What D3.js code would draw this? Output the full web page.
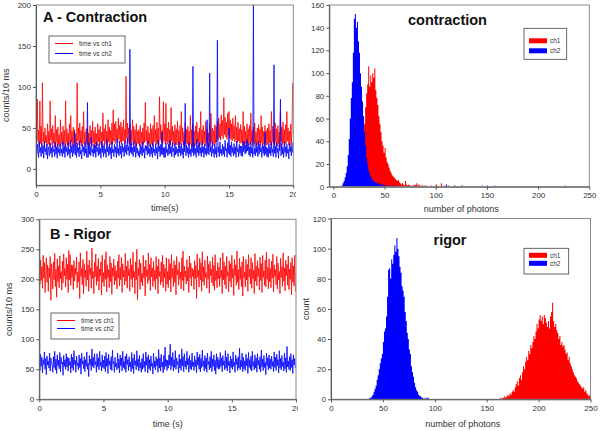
<!DOCTYPE html>
<html><head><meta charset="utf-8">
<script src="https://cdn.jsdelivr.net/npm/d3@7/dist/d3.min.js"></script>
<style>body{margin:0;background:#fff}svg{display:block}text{font-family:"Liberation Sans",Arial,sans-serif}</style>
</head><body><svg id="c" width="600" height="431"></svg>
<script>
// ---------- DATA ----------
const timeStep = 0.05; // seconds between samples (estimated from the traces)
const contractionCh1 = [
62,30,85,34,47,27,83,31,52,29,105,33,45,26,50,32,41,28,55,30,46,27,83,35,49,29,53,31,44,26,65,33,48,28,51,30,42,27,60,31,
45,28,52,31,47,26,83,32,49,29,44,27,55,30,65,33,46,28,51,31,48,27,43,30,105,34,50,29,56,32,47,28,52,30,70,33,45,27,49,31,
50,29,44,27,53,31,47,28,58,32,46,26,51,30,43,28,55,33,48,29,52,31,45,27,68,34,49,30,54,32,46,28,60,33,51,29,47,31,56,30,
72,34,55,31,58,35,49,32,62,36,53,33,57,30,51,34,60,33,48,31,113,38,56,33,50,30,54,32,47,29,60,34,52,31,48,28,55,32,46,30,
48,28,53,31,45,27,50,30,56,32,81,34,47,29,52,31,44,27,55,30,49,28,53,32,65,33,48,30,57,31,50,29,88,35,54,32,47,30,82,34,
55,31,80,33,50,30,57,32,48,29,75,34,52,31,46,28,54,30,49,29,58,32,47,28,53,30,70,33,50,29,45,27,56,31,48,30,52,28,46,29,
65,30,48,27,54,31,46,28,52,30,57,32,45,27,50,29,70,33,48,30,53,31,46,28,58,32,49,29,44,27,55,31,68,33,50,30,47,28,54,31,
52,33,58,36,62,38,55,35,66,40,59,37,87,42,63,39,57,36,68,41,70,38,60,36,55,34,62,37,53,33,65,35,51,32,57,34,49,31,54,32,
48,29,70,32,52,30,46,28,55,31,49,29,53,30,68,33,47,28,51,30,56,32,45,27,50,29,54,31,48,28,65,32,51,30,46,28,53,31,47,29,
50,30,55,32,47,28,70,33,52,31,46,29,56,32,49,28,53,30,45,27,70,33,51,30,57,32,48,29,54,31,70,34,50,29,46,28,55,32,48,105];
const contractionCh2 = [
72,18,30,22,14,34,20,26,15,31,19,28,13,33,21,25,17,30,12,27,22,16,32,19,26,14,29,21,24,15,33,18,27,13,30,20,25,16,31,19,
24,15,33,19,27,14,31,21,26,16,32,18,24,13,35,20,28,15,30,19,45,17,29,14,32,20,26,15,34,18,23,12,30,21,27,16,33,19,25,14,
81,14,32,18,27,16,38,20,24,15,30,19,29,14,33,21,26,16,31,18,25,13,34,20,28,15,31,19,24,14,36,21,27,16,30,18,26,12,33,20,
24,15,30,20,27,14,36,19,25,16,34,18,28,13,31,21,26,15,33,20,29,17,38,22,27,16,146,20,31,18,26,15,34,21,28,14,32,19,25,16,
22,14,30,18,27,16,33,20,25,13,29,22,28,17,34,19,25,15,30,18,27,14,32,20,24,16,31,19,26,12,35,21,28,15,30,18,45,17,26,14,
26,14,32,20,24,16,30,18,35,19,27,15,33,21,25,14,31,17,27,19,24,15,33,20,28,16,31,18,25,13,34,21,80,16,29,19,26,14,32,18,
24,15,30,20,125,16,31,18,25,14,36,20,28,16,32,19,26,15,33,20,27,14,30,18,25,16,60,19,31,17,117,21,27,15,33,19,24,14,30,18,
26,14,157,20,27,15,33,19,24,16,30,18,27,15,35,22,25,14,32,19,50,17,29,15,33,20,26,16,31,18,27,14,34,21,25,15,30,19,28,16,
28,15,33,21,34,18,29,20,36,22,31,17,27,15,33,19,26,14,200,18,25,16,32,20,27,15,34,18,30,21,26,14,31,19,28,16,45,18,27,15,
25,14,31,19,27,16,33,20,24,15,127,19,28,14,32,20,25,13,29,22,85,16,31,18,26,14,33,20,27,15,30,19,24,12,31,21,27,16,32,20];
const rigorCh1 = [
215,192,232,198,221,185,240,202,228,178,211,236,195,224,180,219,203,238,165,226,207,184,229,199,243,188,217,170,234,196,222,186,239,201,213,182,230,194,242,206,
218,187,236,200,225,178,248,199,241,190,224,203,223,183,231,197,219,208,237,186,212,196,229,168,244,205,218,191,233,176,226,203,215,188,247,199,224,180,232,208,
219,185,252,201,213,176,228,204,242,190,222,197,235,182,217,206,229,174,240,195,211,188,233,200,246,179,224,203,216,186,238,196,227,175,219,205,234,191,223,198,
214,184,230,202,241,189,220,199,236,178,226,204,215,191,243,197,222,185,231,206,217,180,235,200,224,187,245,203,213,176,229,199,250,166,218,206,233,183,227,195,
210,189,240,202,221,172,232,205,216,193,244,198,225,181,236,204,219,188,230,197,215,183,238,201,222,176,234,205,213,191,229,196,240,186,225,203,218,180,236,192,
213,186,234,199,226,179,241,203,218,188,231,195,224,174,238,207,216,190,229,200,212,184,236,198,247,181,222,204,214,192,233,197,220,178,239,202,227,189,219,205,
216,183,231,201,223,168,242,204,215,187,235,199,228,180,246,196,221,190,232,203,211,185,239,200,225,177,230,206,217,194,237,189,223,182,241,198,214,186,228,201,
220,188,236,203,215,176,244,199,229,191,222,184,238,205,213,179,231,197,226,187,240,202,218,173,233,206,224,190,247,195,216,183,235,200,221,188,229,172,238,203,
212,187,233,199,225,180,241,204,217,192,236,185,228,201,215,176,243,197,222,189,231,205,218,182,237,198,226,178,240,203,214,190,232,187,245,200,220,184,234,196,
218,186,230,202,242,179,224,205,216,191,238,184,227,199,213,176,235,203,221,188,244,197,219,181,232,206,225,190,239,183,217,200,228,174,236,195,222,189,240,180];
const rigorCh2 = [
63,48,75,55,70,44,66,58,79,50,68,41,72,57,64,52,77,47,69,60,58,45,71,53,80,49,67,43,74,56,65,51,78,46,70,59,62,40,73,55,
66,50,76,54,70,47,69,57,63,44,75,52,70,48,81,58,65,45,72,56,61,49,74,53,68,42,77,59,64,51,71,46,66,55,79,50,60,38,73,57,
67,48,84,55,70,52,76,58,63,45,76,54,69,49,80,56,62,47,74,53,65,51,72,46,78,55,68,43,75,57,64,50,71,48,82,59,63,45,70,54,
60,49,77,52,67,44,74,56,69,47,80,53,63,50,72,45,76,58,66,48,71,54,62,46,78,51,69,43,75,57,64,49,81,55,67,47,73,52,61,45,
68,50,76,53,63,46,79,57,70,44,74,51,66,48,72,55,60,42,77,53,64,49,71,56,67,45,83,52,69,47,75,54,62,44,73,50,87,55,66,48,
65,52,74,57,92,49,70,55,78,47,66,53,81,50,69,58,63,44,75,52,67,48,84,56,71,46,76,54,64,50,80,57,68,45,73,51,65,49,77,55,
62,48,72,54,66,44,79,57,70,50,75,46,68,53,82,55,64,47,73,51,69,45,77,58,63,49,71,52,80,46,67,55,74,48,65,42,76,53,70,50,
66,51,78,55,69,46,73,57,64,49,81,52,70,47,76,56,63,44,72,53,67,50,79,55,62,45,74,58,68,48,71,52,85,49,65,54,77,46,70,51,
64,48,75,56,68,43,78,53,66,50,72,47,80,55,63,49,74,52,69,45,76,57,65,50,71,46,82,54,67,48,73,53,62,41,77,56,69,49,74,52,
67,50,72,55,63,46,79,53,70,48,75,56,66,44,81,52,68,49,73,55,62,47,77,51,69,45,88,54,64,50,71,48,76,53,66,43,74,57,68,52];

// histograms: first bin value + counts per 1-photon bin
const histContrCh1Start = 20;
const histContrCh1 = [1,2,3,5,7,10,15,22,30,42,55,70,82,90,106,88,98,92,100,96,104,85,78,72,62,55,48,40,36,30,34,26,22,20,17,14,12,10,9,8,7,6,5,6,4,3,2,3,2,1,5,2,1,2,1,1,0,1,1,2,1,3,1,2,1,0,1,1,0,1,1];
const histContrCh1Sparse = [[95,1],[100,2],[105,3],[108,1],[112,1],[118,1],[125,1]];
const histContrCh2Start = 8;
const histContrCh2 = [1,3,5,8,12,18,28,42,60,78,92,118,148,152,140,145,128,118,100,88,75,62,48,36,25,20,14,11,9,7,6,5,4,4,3,3,2,3,2,2,1,2,1,0,1,0,0,1,0,0,1,0,1];
const histContrCh2Sparse = [[80,1],[100,1],[110,2],[118,1],[125,1],[145,1],[150,1],[157,1],[226,1]];
const histRigorCh1Start = 163;
const histRigorCh1 = [1,0,1,1,2,1,2,3,2,4,3,5,6,5,8,10,12,9,14,16,13,18,22,20,25,28,26,32,30,36,34,38,42,40,45,50,47,53,56,52,55,50,56,54,51,48,52,47,55,58,64,52,48,50,46,44,40,42,36,38,35,36,33,30,31,26,28,24,22,20,18,16,15,14,12,11,10,9,8,7,8,5,6,4,3,2,3,1];
const histRigorCh2Start = 37;
const histRigorCh2 = [1,1,2,3,5,7,9,13,16,20,24,27,30,38,45,47,55,68,86,87,80,93,90,96,102,98,107,100,95,88,84,75,72,68,58,52,44,40,33,30,22,18,15,11,8,6,5,3,2,2,1,1,0,1,0,1,1];

const timeTicks = [0,5,10,15,20];
const photonTicks = [0,50,100,150,200,250];
const legendLines = ["time vs ch1","time vs ch2"];
const legendHist = ["ch1","ch2"];
const RED = "#ff0000", BLUE = "#0000ff";

// ---------- DRAW ----------
const svg = d3.select("#c");
const defs = svg.append("defs");
let clipId = 0;
function clipRect(x,y,w,h){const id="cp"+(clipId++);defs.append("clipPath").attr("id",id).append("rect").attr("x",x).attr("y",y).attr("width",w).attr("height",h);return "url(#"+id+")";}

function frame(g, x0, x1, y0, y1, xScale, yScale, xt, yt){
  g.append("rect").attr("x",x0).attr("y",y0).attr("width",x1-x0).attr("height",y1-y0)
    .attr("fill","none").attr("stroke","#8a8a8a").attr("stroke-width",1);
  const ax = g.append("g").attr("transform",`translate(0,${y1})`).call(d3.axisBottom(xScale).tickValues(xt).tickSize(3).tickSizeOuter(0));
  const ay = g.append("g").attr("transform",`translate(${x0},0)`).call(d3.axisLeft(yScale).tickValues(yt).tickSize(3).tickSizeOuter(0));
  [ax,ay].forEach(a=>{a.select(".domain").attr("stroke","#555");a.selectAll("line").attr("stroke","#555");
    a.selectAll("text").attr("font-size","8px").attr("fill","#333").attr("font-family","Liberation Sans, Arial, sans-serif");});
  ay.selectAll("text").attr("x",-5);
  ax.selectAll("text").attr("y",6);
}

function linePanel(o){
  const g = svg.append("g").attr("clip-path", clipRect(0,o.y0-10,o.clipX,o.y1-o.y0+40));
  const x = d3.scaleLinear().domain([0,20]).range([o.x0,o.x1]);
  const y = d3.scaleLinear().domain(o.yDom).range([o.y1,o.y0]);
  const pg = g.append("g").attr("clip-path", clipRect(o.x0,o.y0,o.x1-o.x0,o.y1-o.y0));
  const line = d3.line().x((d,i)=>x(i*timeStep)).y(d=>y(d));
  pg.append("path").datum(o.s1).attr("d",line).attr("fill","none").attr("stroke",RED).attr("stroke-width",0.8);
  pg.append("path").datum(o.s2).attr("d",line).attr("fill","none").attr("stroke",BLUE).attr("stroke-width",0.8);
  frame(g,o.x0,o.x1,o.y0,o.y1,x,y,timeTicks,o.yTicks);
  const L = o.leg;
  g.append("rect").attr("x",L.x).attr("y",L.y).attr("width",L.w).attr("height",L.h).attr("fill","#fff").attr("stroke","#444").attr("stroke-width",0.8);
  legendLines.forEach((t,i)=>{
    const yy = L.y + 7.5 + i*L.dy;
    g.append("line").attr("x1",L.x+6).attr("x2",L.x+24).attr("y1",yy).attr("y2",yy).attr("stroke",i?BLUE:RED).attr("stroke-width",1.2);
    g.append("text").attr("x",L.x+30).attr("y",yy+2.5).attr("font-size","6.5px").attr("fill","#333").text(t);
  });
  g.append("text").attr("x",o.title[1]).attr("y",o.title[2]).attr("font-size","14.5px").attr("font-weight","bold").attr("fill","#111").text(o.title[0]);
  g.append("text").attr("x",(o.x0+o.x1)/2).attr("y",o.xlabY).attr("text-anchor","middle").attr("font-size","9px").attr("fill","#333").text(o.xlab);
  g.append("text").attr("transform",`translate(${o.ylabX},${(o.y0+o.y1)/2}) rotate(-90)`).attr("text-anchor","middle").attr("font-size","9px").attr("fill","#333").text("counts/10 ms");
}

function histPanel(o){
  const g = svg.append("g").attr("clip-path", clipRect(300,o.y0-10,300,o.y1-o.y0+40));
  const x = d3.scaleLinear().domain(o.xDom).range([o.x0,o.x1]);
  const y = d3.scaleLinear().domain(o.yDom).range([o.y1,o.y0]);
  const pg = g.append("g").attr("clip-path", clipRect(o.x0,o.y0,o.x1-o.x0,o.y1-o.y0));
  function drawHist(start, counts, sparse, col){
    const pts = counts.map((c,i)=>[start+i,c]); pts.push([start+counts.length,0]);
    const area = d3.area().x(d=>x(d[0])).y0(y(0)).y1(d=>y(d[1])).curve(d3.curveStepAfter);
    pg.append("path").datum(pts).attr("d",area).attr("fill",col).attr("stroke","none");
    pg.selectAll(null).data(sparse).enter().append("rect")
      .attr("x",d=>x(d[0])).attr("width",d=>x(d[0]+1)-x(d[0]))
      .attr("y",d=>y(d[1])).attr("height",d=>y(0)-y(d[1])).attr("fill",col);
  }
  drawHist(o.h1[0],o.h1[1],o.h1[2],RED);
  drawHist(o.h2[0],o.h2[1],o.h2[2],BLUE);
  frame(g,o.x0,o.x1,o.y0,o.y1,x,y,photonTicks,o.yTicks);
  const L = o.leg;
  g.append("rect").attr("x",L.x).attr("y",L.y).attr("width",L.w).attr("height",L.h).attr("fill","#fff").attr("stroke","#444").attr("stroke-width",0.8);
  legendHist.forEach((t,i)=>{
    const yy = L.y + L.sy + i*L.dy;
    g.append("rect").attr("x",L.x+5).attr("y",yy).attr("width",18).attr("height",5).attr("fill",i?BLUE:RED);
    g.append("text").attr("x",L.x+26).attr("y",yy+5).attr("font-size","6.5px").attr("fill","#333").text(t);
  });
  g.append("text").attr("x",o.title[1]).attr("y",o.title[2]).attr("text-anchor","middle").attr("font-size","14.5px").attr("font-weight","bold").attr("fill","#111").text(o.title[0]);
  g.append("text").attr("x",(o.x0+o.x1)/2+2).attr("y",o.xlabY).attr("text-anchor","middle").attr("font-size","9px").attr("fill","#333").text("number of photons");
  g.append("text").attr("transform",`translate(${o.ylabX},${(o.y0+o.y1)/2}) rotate(-90)`).attr("text-anchor","middle").attr("font-size","9px").attr("fill","#333").text("count");
}

linePanel({x0:36,x1:293.3,y0:5,y1:185.3,yDom:[-20,200],yTicks:[0,50,100,150,200],s1:contractionCh1,s2:contractionCh2,
  clipX:296,leg:{x:49,y:36,w:76,h:27,dy:10},title:["A - Contraction",43,21.5],xlab:"time(s)",xlabY:211,ylabX:9});
linePanel({x0:39.3,x1:296,y0:219.3,y1:399.3,yDom:[0,300],yTicks:[0,50,100,150,200,250,300],s1:rigorCh1,s2:rigorCh2,
  clipX:298,leg:{x:51,y:313,w:68,h:26,dy:8},title:["B - Rigor",50,239],xlab:"time (s)",xlabY:427,ylabX:12});
histPanel({x0:329.3,x1:589.3,y0:5,y1:186.7,xDom:[-4,250],yDom:[0,160],yTicks:[0,20,40,60,80,100,120,140,160],
  h1:[histContrCh1Start,histContrCh1,histContrCh1Sparse],h2:[histContrCh2Start,histContrCh2,histContrCh2Sparse],
  leg:{x:524,y:28.3,w:42.7,h:31,sy:10,dy:10},title:["contraction",447.5,24.5],xlabY:212,ylabX:299});
histPanel({x0:331,x1:590.5,y0:218.5,y1:399.3,xDom:[0,250],yDom:[0,120],yTicks:[0,20,40,60,80,100,120],
  h1:[histRigorCh1Start,histRigorCh1,[]],h2:[histRigorCh2Start,histRigorCh2,[]],
  leg:{x:524,y:248.3,w:44.7,h:25.7,sy:4.5,dy:8},title:["rigor",450,245],xlabY:427,ylabX:309});
</script></body></html>
